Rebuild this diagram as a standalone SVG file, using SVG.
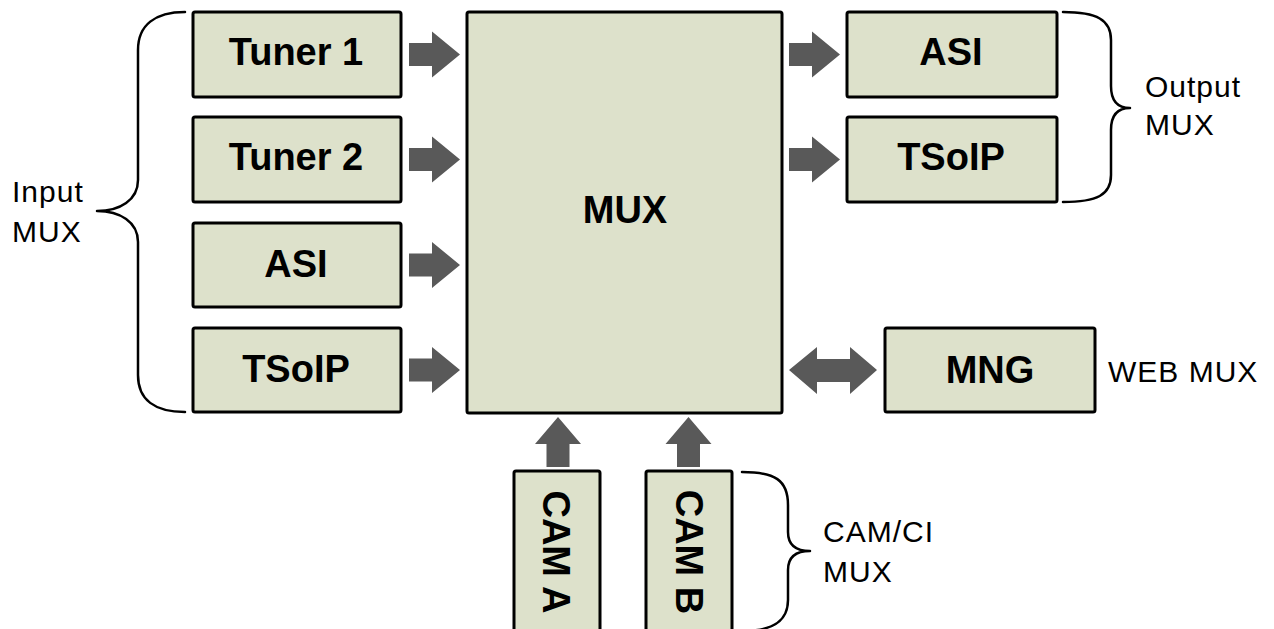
<svg xmlns="http://www.w3.org/2000/svg" width="1274" height="629" viewBox="0 0 1274 629">
<style>
.box{fill:#DDE1CB;stroke:#000;stroke-width:3;stroke-linejoin:round}
.bl{font-family:"Liberation Sans",Arial,sans-serif;font-weight:bold;font-size:38px;fill:#000;text-anchor:middle}
.lb{font-family:"Liberation Sans",Arial,sans-serif;font-size:30px;fill:#000;letter-spacing:1px}
.arr{fill:#595959}
.brace{fill:none;stroke:#000;stroke-width:2.5;stroke-linecap:round;stroke-linejoin:round}
</style>
<defs>
<path id="ra" d="M0,-11.5 H23 V-23 L51,0 L23,23 V11.5 H0 Z"/>
<path id="ua" d="M-11.5,0 V-23 H-23 L0,-50 L23,-23 H11.5 V0 Z"/>
</defs>
<rect width="1274" height="629" fill="#fff"/>
<g id="connectors">
<use href="#ra" class="arr" x="409" y="54.5"/>
<use href="#ra" class="arr" x="409" y="159.5"/>
<use href="#ra" class="arr" x="409" y="265"/>
<use href="#ra" class="arr" x="409" y="370"/>
<use href="#ra" class="arr" x="789" y="54.5"/>
<use href="#ra" class="arr" x="789" y="159.5"/>
<path class="arr" d="M789,370 L817,347 V359 H850 V347 L877,370 L850,394 V382 H817 V394 Z"/>
<use href="#ua" class="arr" x="558" y="467"/>
<use href="#ua" class="arr" x="688.5" y="467"/>
</g>
<g id="braces">
<path class="brace" d="M185,12 C155,12 138,25 138,50 L138,180 C138,200 120,211 97,211 C120,211 138,222 138,242 L138,375 C138,400 155,412 185,412"/>
<path class="brace" d="M1063,12 C1097,12 1111,20 1111,40 L1111,86 C1111,100 1117,108 1130,108 C1117,108 1111,116 1111,130 L1111,175 C1111,195 1097,202 1063,202"/>
<path class="brace" d="M742,472 C775,472 788,480 788,505 L788,532 C788,545 796,551 810,551 C796,551 788,557 788,570 L788,600 C788,620 775,631 742,631"/>
</g>
<g id="tuner1"><rect class="box" x="193" y="12" width="208" height="85" rx="2"/><text class="bl" x="296" y="65">Tuner 1</text></g>
<g id="tuner2"><rect class="box" x="193" y="117" width="208" height="85" rx="2"/><text class="bl" x="296" y="170">Tuner 2</text></g>
<g id="asi-in"><rect class="box" x="193" y="223" width="208" height="84" rx="2"/><text class="bl" x="296" y="277">ASI</text></g>
<g id="tsoip-in"><rect class="box" x="193" y="328" width="208" height="84" rx="2"/><text class="bl" x="296" y="382">TSoIP</text></g>
<g id="mux"><rect class="box" x="467" y="12" width="315" height="401" rx="2"/><text class="bl" x="625" y="223">MUX</text></g>
<g id="asi-out"><rect class="box" x="847" y="12" width="210" height="85" rx="2"/><text class="bl" x="951" y="65">ASI</text></g>
<g id="tsoip-out"><rect class="box" x="847" y="117" width="210" height="85" rx="2"/><text class="bl" x="951" y="170">TSoIP</text></g>
<g id="mng"><rect class="box" x="885" y="328" width="210" height="84" rx="2"/><text class="bl" x="990" y="383">MNG</text></g>
<g id="cam-a"><rect class="box" x="514" y="471" width="86" height="170" rx="2"/><text class="bl" transform="translate(543,552) rotate(90)" x="0" y="0">CAM A</text></g>
<g id="cam-b"><rect class="box" x="646" y="471" width="86" height="170" rx="2"/><text class="bl" transform="translate(676,552) rotate(90)" x="0" y="0">CAM B</text></g>
<g id="labels">
<text class="lb" x="12" y="202">Input</text>
<text class="lb" x="12" y="242">MUX</text>
<text class="lb" x="1145" y="97">Output</text>
<text class="lb" x="1145" y="135">MUX</text>
<text class="lb" x="1108" y="382">WEB MUX</text>
<text class="lb" x="823" y="542">CAM/CI</text>
<text class="lb" x="823" y="582">MUX</text>
</g>
</svg>
